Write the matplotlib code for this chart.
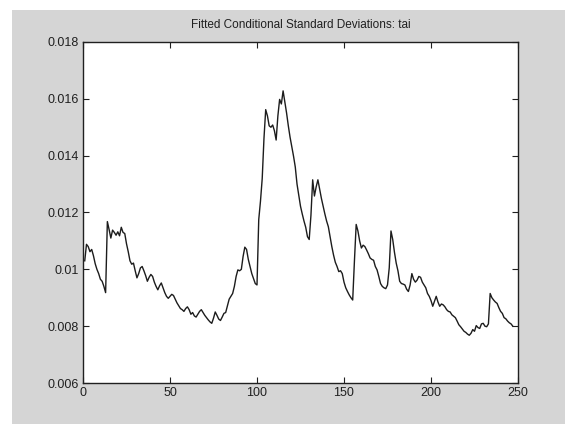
import matplotlib
matplotlib.use("Agg")
import matplotlib.pyplot as plt
from matplotlib.patches import Rectangle

plt.rcParams['font.family'] = ['Liberation Sans', 'DejaVu Sans']

# fitted conditional standard deviations, one value per observation (t = 1..247)
sigma = [
    0.01030, 0.01088, 0.01080, 0.01062, 0.01070, 0.01048, 0.01020, 0.01000, 0.00985, 0.00965,
    0.00958, 0.00940, 0.00918, 0.01168, 0.01140, 0.01110, 0.01138, 0.01130, 0.01120, 0.01132,
    0.01118, 0.01148, 0.01130, 0.01126, 0.01090, 0.01062, 0.01030, 0.01018, 0.01022, 0.00995,
    0.00970, 0.00985, 0.01005, 0.01010, 0.00995, 0.00978, 0.00958, 0.00972, 0.00982, 0.00975,
    0.00955, 0.00940, 0.00928, 0.00942, 0.00952, 0.00935, 0.00918, 0.00905, 0.00898, 0.00905,
    0.00912, 0.00908, 0.00895, 0.00882, 0.00872, 0.00862, 0.00858, 0.00852, 0.00862, 0.00868,
    0.00858, 0.00842, 0.00848, 0.00836, 0.00832, 0.00842, 0.00852, 0.00858, 0.00848, 0.00838,
    0.00830, 0.00822, 0.00815, 0.00810, 0.00828, 0.00850, 0.00838, 0.00825, 0.00820, 0.00832,
    0.00845, 0.00848, 0.00872, 0.00895, 0.00905, 0.00915, 0.00940, 0.00975, 0.00998, 0.00995,
    0.01000, 0.01045, 0.01078, 0.01070, 0.01035, 0.01010, 0.00985, 0.00968, 0.00950, 0.00945,
    0.01175, 0.01240, 0.01320, 0.01460, 0.01562, 0.01540, 0.01505, 0.01500, 0.01508, 0.01488,
    0.01455, 0.01540, 0.01598, 0.01582, 0.01628, 0.01590, 0.01550, 0.01505, 0.01465, 0.01432,
    0.01398, 0.01360, 0.01300, 0.01260, 0.01222, 0.01195, 0.01170, 0.01148, 0.01115, 0.01105,
    0.01190, 0.01315, 0.01258, 0.01290, 0.01315, 0.01282, 0.01250, 0.01222, 0.01195, 0.01170,
    0.01150, 0.01115, 0.01080, 0.01050, 0.01025, 0.01010, 0.00992, 0.00995, 0.00985, 0.00955,
    0.00935, 0.00922, 0.00910, 0.00900, 0.00892, 0.01030, 0.01158, 0.01135, 0.01100, 0.01075,
    0.01085, 0.01080, 0.01068, 0.01055, 0.01040, 0.01035, 0.01032, 0.01010, 0.00998, 0.00975,
    0.00950, 0.00940, 0.00935, 0.00932, 0.00945, 0.01005, 0.01135, 0.01105, 0.01060, 0.01022,
    0.00995, 0.00958, 0.00950, 0.00948, 0.00945, 0.00930, 0.00922, 0.00945, 0.00985, 0.00965,
    0.00955, 0.00962, 0.00975, 0.00972, 0.00955, 0.00945, 0.00935, 0.00915, 0.00905, 0.00890,
    0.00870, 0.00888, 0.00905, 0.00885, 0.00870, 0.00878, 0.00875, 0.00868, 0.00858, 0.00852,
    0.00850, 0.00840, 0.00835, 0.00830, 0.00818, 0.00805, 0.00798, 0.00790, 0.00782, 0.00778,
    0.00772, 0.00768, 0.00775, 0.00788, 0.00782, 0.00802, 0.00795, 0.00792, 0.00808, 0.00810,
    0.00800, 0.00798, 0.00808, 0.00915, 0.00900, 0.00892, 0.00885, 0.00880, 0.00865, 0.00852,
    0.00845, 0.00830, 0.00826, 0.00818, 0.00812, 0.00808, 0.00800,
]
t = list(range(1, len(sigma) + 1))

xticks = [0, 50, 100, 150, 200, 250]
yticks = [0.006, 0.008, 0.010, 0.012, 0.014, 0.016, 0.018]
ylabels = ['0.006', '0.008', '0.01', '0.012', '0.014', '0.016', '0.018']

fig = plt.figure(figsize=(5.65, 4.24), dpi=100, facecolor='white')
# grey figure window behind the axes
fig.patches.append(Rectangle((12 / 565, 0), 1, 1 - 10 / 424, transform=fig.transFigure,
                             facecolor='#d5d5d5', edgecolor='none', zorder=-1))

ax = fig.add_axes([83 / 565, 1 - 383 / 424, 435 / 565, 341 / 424])
ax.set_facecolor('white')
ax.plot(t, sigma, color='#1c1c1c', lw=1.0)

ax.set_xlim(0, 250)
ax.set_ylim(0.006, 0.018)
ax.set_xticks(xticks)
ax.set_yticks(yticks)
ax.set_yticklabels(ylabels)
ax.tick_params(direction='in', length=4, width=0.8, labelsize=9, top=True, right=True,
               colors='#202020', pad=3)
for s in ax.spines.values():
    s.set_linewidth(1.0)
    s.set_color('#202020')

ax.set_title('Fitted Conditional Standard Deviations: tai', fontsize=8.5, pad=10, color='#202020')

fig.savefig('out.png', dpi=100, facecolor=fig.get_facecolor())
